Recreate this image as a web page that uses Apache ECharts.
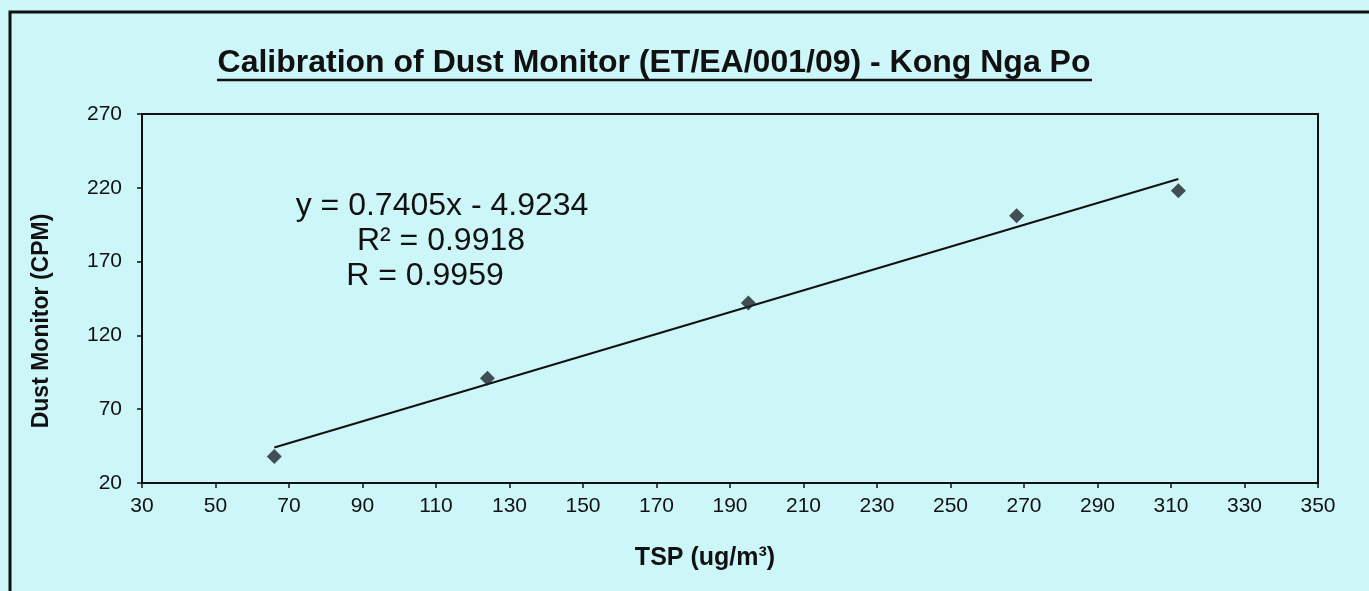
<!DOCTYPE html>
<html>
<head>
<meta charset="utf-8">
<script src="https://cdn.jsdelivr.net/npm/echarts@6/dist/echarts.min.js"></script>
<style>
  html, body { margin: 0; padding: 0; background: #cdf6f9; }
  #chart { width: 1369px; height: 591px; }
</style>
</head>
<body>
<div id="chart"></div>
<script>
  // measured points (TSP vs dust monitor reading)
  const tspValues = [66, 124, 195, 268, 312];
  const cpmValues = [38, 91, 142, 201, 218];
  // trendline ends
  const trendX = [66, 312];
  const trendY = [44, 226];
  const equationLines = ["y = 0.7405x - 4.9234", "R² = 0.9918", "R = 0.9959"];

  const font = "'Liberation Sans', Arial, sans-serif";
  let myChart = echarts.init(document.getElementById("chart"));

  let option = {
    backgroundColor: "#cdf6f9",
    animation: false,
    grid: {
      left: 142,
      right: 51,
      top: 114,
      bottom: 108,
      show: true,
      borderColor: "#111",
      borderWidth: 2,
    },
    xAxis: {
      type: "value",
      min: 30,
      max: 350,
      interval: 20,
      splitLine: { show: false },
      axisLine: { onZero: false, lineStyle: { color: "#111", width: 2 } },
      axisTick: { length: 5, lineStyle: { color: "#111", width: 1.5 } },
      axisLabel: { color: "#111", fontFamily: font, fontSize: 21, margin: 13 },
    },
    yAxis: {
      type: "value",
      min: 20,
      max: 270,
      interval: 50,
      splitLine: { show: false },
      axisLine: { onZero: false, lineStyle: { color: "#111", width: 2 } },
      axisTick: { length: 5, lineStyle: { color: "#111", width: 1.5 } },
      axisLabel: { color: "#111", fontFamily: font, fontSize: 21, margin: 20 },
    },
    graphic: [
      //外框
      {
        type: "rect",
        shape: { x: 10, y: 12, width: 1500, height: 800 },
        style: { fill: null, stroke: "#111", lineWidth: 3 },
        silent: true,
      },
      {
        type: "text",
        x: 654,
        y: 63,
        style: {
          text: "Calibration of Dust Monitor (ET/EA/001/09) - Kong Nga Po",
          font: "bold 32px " + font,
          fill: "#111",
          align: "center",
          verticalAlign: "middle",
        },
      },
      //标题下划线
      {
        type: "line",
        shape: { x1: 217, y1: 80, x2: 1092, y2: 80 },
        style: { stroke: "#111", lineWidth: 2.5 },
      },
      {
        type: "text",
        x: 705,
        y: 558,
        style: {
          text: "TSP (ug/m³)",
          font: "bold 25px " + font,
          fill: "#111",
          align: "center",
          verticalAlign: "middle",
        },
      },
      {
        type: "text",
        x: 42,
        y: 321,
        rotation: Math.PI / 2,
        style: {
          text: "Dust Monitor (CPM)",
          font: "bold 23px " + font,
          fill: "#111",
          align: "center",
          verticalAlign: "middle",
        },
      },
      ...equationLines.map((line, i) => ({
        type: "text",
        x: [442, 441, 425][i],
        y: [206, 241, 276][i],
        style: {
          text: line,
          font: "32px " + font,
          fill: "#111",
          align: "center",
          verticalAlign: "middle",
        },
      })),
    ],
    series: [
      {
        name: "trend",
        type: "line",
        data: trendX.map((x, i) => [x, trendY[i]]),
        symbol: "none",
        lineStyle: { color: "#111", width: 2 },
        z: 2,
      },
      {
        name: "CPM",
        type: "scatter",
        data: tspValues.map((x, i) => [x, cpmValues[i]]),
        symbol: "diamond",
        symbolSize: 15,
        itemStyle: { color: "#1e252b" },
        z: 3,
      },
    ],
  };
  myChart.setOption(option);
</script>
</body>
</html>
